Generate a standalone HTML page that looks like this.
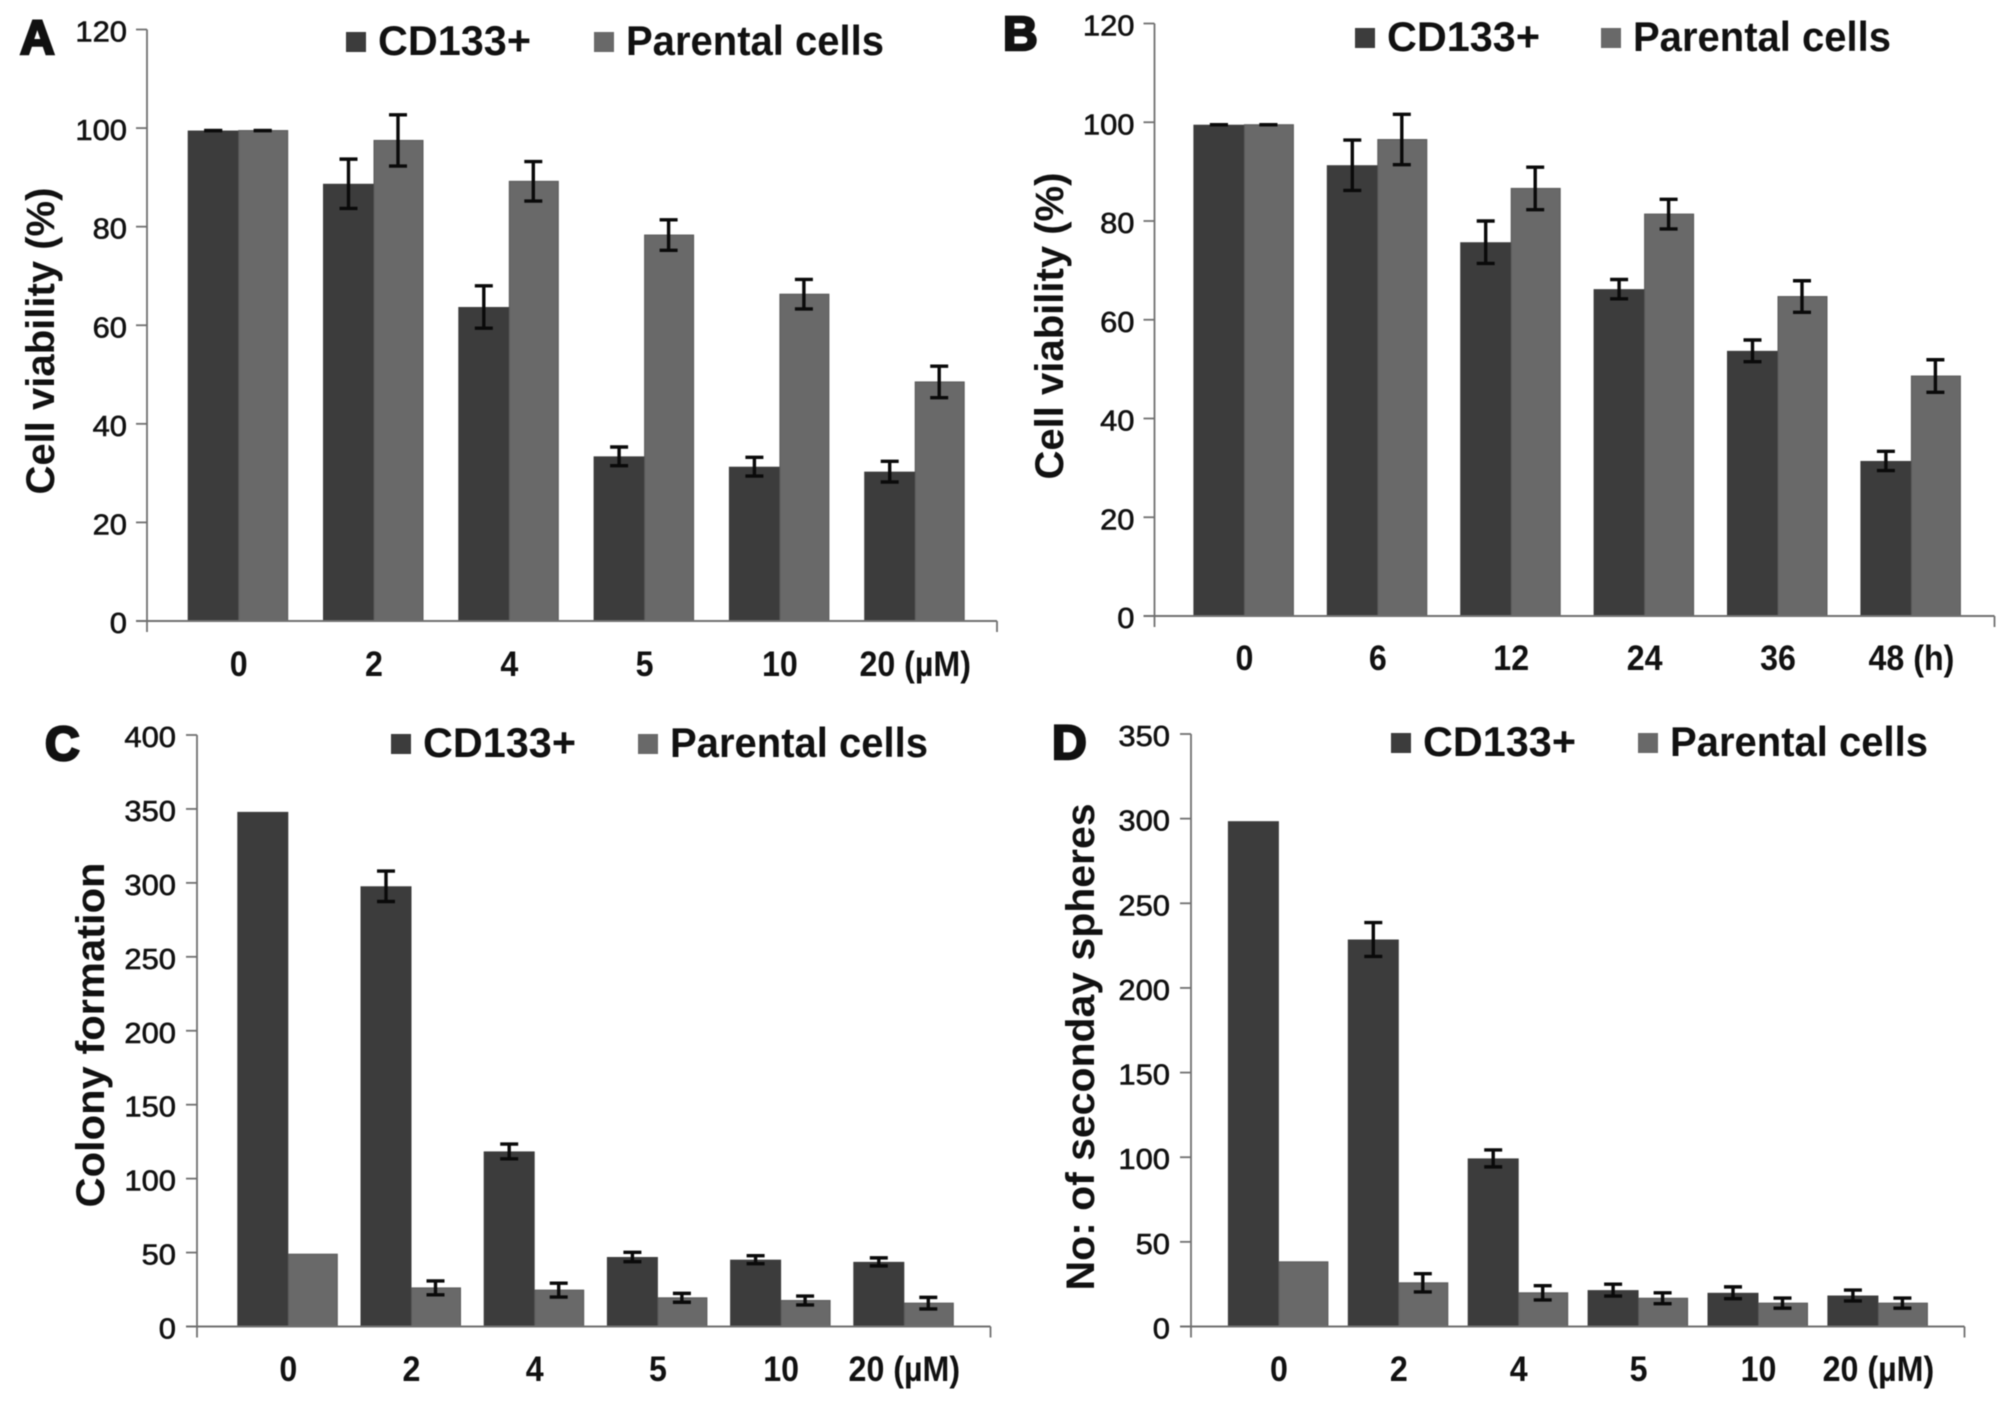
<!DOCTYPE html>
<html lang="en">
<head>
<meta charset="utf-8">
<title>Cell viability, colony formation and secondary spheres</title>
<style>
  html, body { margin: 0; padding: 0; background: #fff; }
  #figure { display: block; width: 2008px; height: 1403px; filter: blur(0.6px); }
  text { font-family: "Liberation Sans", Arial, sans-serif; fill: #111; }
</style>
</head>
<body>
<svg id="figure" xmlns="http://www.w3.org/2000/svg" width="2008" height="1403" viewBox="0 0 2008 1403"></svg>
<script>
// ---- Panel A data ----
const categoriesA = ['0', '2', '4', '5', '10', '20 (µM)'];
const ticksA = [0, 20, 40, 60, 80, 100, 120];
const cd133A = [99.5, 88.7, 63.7, 33.4, 31.3, 30.3];
const parentalA = [99.5, 97.5, 89.2, 78.3, 66.3, 48.5];
const cd133ErrA = [0, 5, 4.3, 1.9, 1.9, 2.1];
const parentalErrA = [0, 5.2, 4, 3.1, 3, 3.2];

// ---- Panel B data ----
const categoriesB = ['0', '6', '12', '24', '36', '48 (h)'];
const ticksB = [0, 20, 40, 60, 80, 100, 120];
const cd133B = [99.5, 91.3, 75.7, 66.2, 53.7, 31.4];
const parentalB = [99.5, 96.5, 86.6, 81.4, 64.7, 48.6];
const cd133ErrB = [0, 5.1, 4.3, 1.95, 2.2, 1.95];
const parentalErrB = [0, 5.1, 4.3, 3, 3.2, 3.3];

// ---- Panel C data ----
const categoriesC = ['0', '2', '4', '5', '10', '20 (µM)'];
const ticksC = [0, 50, 100, 150, 200, 250, 300, 350, 400];
const cd133C = [348, 297.7, 118.4, 47, 45.2, 43.7];
const parentalC = [48.9, 26.1, 24.6, 19.4, 17.6, 15.8];
const cd133ErrC = [0, 10.3, 5, 3.2, 2.7, 2.7];
const parentalErrC = [0, 4.7, 4.7, 3, 3, 3.9];

// ---- Panel D data ----
const categoriesD = ['0', '2', '4', '5', '10', '20 (µM)'];
const ticksD = [0, 50, 100, 150, 200, 250, 300, 350];
const cd133D = [298.5, 228.6, 99.3, 21.5, 19.9, 18.3];
const parentalD = [38.2, 25.8, 19.9, 16.7, 13.8, 13.8];
const cd133ErrD = [0, 10, 5, 3.5, 3.5, 3.2];
const parentalErrD = [0, 5.4, 4.2, 3.2, 3, 3];

const SVG_NS = 'http://www.w3.org/2000/svg';
const figure = document.getElementById('figure');
const DARK = '#3c3c3c';
const LIGHT = '#696969';
const LIGHT_EDGE = '#595959';
const AXIS = '#707070';

function make(parent, tag, attrs, content) {
  const el = document.createElementNS(SVG_NS, tag);
  Object.keys(attrs).forEach(function (k) { el.setAttribute(k, attrs[k]); });
  if (content !== undefined) el.textContent = content;
  parent.appendChild(el);
  return el;
}

function drawPanel(p) {
  const group = make(figure, 'g', {});
  
  

  const yMax = p.ticks[p.ticks.length - 1];
  const yScale = function (v) { return p.y0 - (v / yMax) * (p.y0 - p.yTop); };
  const xScale = function (i) { return p.firstX + i * p.step; };

  // bars
  p.categories.forEach(function (cat, i) {
    const cx = xScale(i);
    const darkBar = make(group, 'rect', { x: cx - 51, y: yScale(p.cd133[i]), width: 51, height: p.y0 - yScale(p.cd133[i]), fill: DARK });
    
    
    const lightBar = make(group, 'rect', { x: cx, y: yScale(p.parental[i]), width: 49, height: p.y0 - yScale(p.parental[i]), fill: LIGHT, stroke: LIGHT_EDGE, 'stroke-width': 1 });
    
    
  });

  // error bars
  function errorBar(cx, value, err, name) {
    if (err === 0 && !p.zeroCaps) return;
    const g = make(group, 'g', { stroke: '#0a0a0a', 'stroke-width': 3.4, fill: 'none' });
    
    
    const top = yScale(value + err);
    const bottom = yScale(value - err);
    make(g, 'line', { x1: cx, x2: cx, y1: top, y2: bottom });
    make(g, 'line', { x1: cx - 9, x2: cx + 9, y1: top, y2: top });
    make(g, 'line', { x1: cx - 9, x2: cx + 9, y1: bottom, y2: bottom });
  }
  p.categories.forEach(function (cat, i) {
    const cx = xScale(i);
    errorBar(cx - 25.5, p.cd133[i], p.cd133Err[i], 'error-bar-cd133-' + cat.split(' ')[0]);
    errorBar(cx + 24, p.parental[i], p.parentalErr[i], 'error-bar-parental-' + cat.split(' ')[0]);
  });

  // axes
  const yAxis = make(group, 'line', { x1: p.axisX, x2: p.axisX, y1: p.yTop, y2: p.y0 + 11, stroke: AXIS, 'stroke-width': 1.8 });
  
  
  const xAxis = make(group, 'line', { x1: p.axisX - 11, x2: p.axisRight, y1: p.y0, y2: p.y0, stroke: AXIS, 'stroke-width': 2 });
  
  
  const xEnd = make(group, 'line', { x1: p.axisRight, x2: p.axisRight, y1: p.y0, y2: p.y0 + 11, stroke: AXIS, 'stroke-width': 1.8 });
  
  

  // y ticks and labels
  p.ticks.forEach(function (t) {
    const mark = make(group, 'line', { x1: p.axisX - 11, x2: p.axisX, y1: yScale(t), y2: yScale(t), stroke: AXIS, 'stroke-width': 1.8 });
    
    
    const text = String(t);
    const label = make(group, 'text', {
      x: p.axisX - p.tickGap, y: yScale(t) + 12, 'text-anchor': 'end', 'font-size': 29,
      stroke: '#111', 'stroke-width': 0.6, textLength: 17.2 * text.length, lengthAdjust: 'spacingAndGlyphs'
    }, text);
    
    
  });

  // x labels
  p.categories.forEach(function (cat, i) {
    const label = make(group, 'text', {
      'text-anchor': 'middle', 'font-size': 35, 'font-weight': 'bold',
      transform: 'translate(' + xScale(i) + ' ' + p.xLabelY + ') scale(0.92 1)'
    }, cat);
    
    
  });

  // y title
  const title = make(group, 'text', {
    x: p.titleX, y: p.titleY, 'text-anchor': 'middle', 'font-size': 40, 'font-weight': 'bold',
    textLength: p.titleLen, lengthAdjust: 'spacingAndGlyphs',
    transform: 'rotate(-90 ' + p.titleX + ' ' + p.titleY + ')'
  }, p.title);
  
  

  // panel letter
  const letter = make(group, 'text', { x: p.letterX, y: p.letterY, 'font-size': 48, 'font-weight': 'bold', stroke: '#111', 'stroke-width': 2.5 }, p.id);
  
  

  // legend
  const legendA = make(group, 'g', {});
  
  
  make(legendA, 'rect', { x: p.legX1, y: p.legY, width: 20, height: 20, fill: DARK });
  make(legendA, 'text', { x: p.legX1 + 32, y: p.legY + 23, 'font-size': 42, 'font-weight': 'bold', textLength: 153, lengthAdjust: 'spacingAndGlyphs' }, 'CD133+');

  const legendB = make(group, 'g', {});
  
  
  make(legendB, 'rect', { x: p.legX2, y: p.legY, width: 20, height: 20, fill: LIGHT });
  make(legendB, 'text', { x: p.legX2 + 32, y: p.legY + 23, 'font-size': 42, 'font-weight': 'bold', textLength: 258, lengthAdjust: 'spacingAndGlyphs' }, 'Parental cells');
}

drawPanel({
  id: 'A', categories: categoriesA, ticks: ticksA, cd133: cd133A, parental: parentalA,
  cd133Err: cd133ErrA, parentalErr: parentalErrA, zeroCaps: true,
  axisX: 147, axisRight: 997, y0: 621, yTop: 29.5, firstX: 238.7, step: 135.3, xLabelY: 676, tickGap: 20,
  title: 'Cell viability (%)', titleX: 54, titleY: 341, titleLen: 307,
  letterX: 20, letterY: 54, legX1: 346, legX2: 594, legY: 32
});
drawPanel({
  id: 'B', categories: categoriesB, ticks: ticksB, cd133: cd133B, parental: parentalB,
  cd133Err: cd133ErrB, parentalErr: parentalErrB, zeroCaps: true,
  axisX: 1154.5, axisRight: 1994.5, y0: 616, yTop: 23.5, firstX: 1244.4, step: 133.4, xLabelY: 670, tickGap: 20,
  title: 'Cell viability (%)', titleX: 1063, titleY: 326, titleLen: 307,
  letterX: 1003, letterY: 50, legX1: 1355, legX2: 1601, legY: 28
});
drawPanel({
  id: 'C', categories: categoriesC, ticks: ticksC, cd133: cd133C, parental: parentalC,
  cd133Err: cd133ErrC, parentalErr: parentalErrC, zeroCaps: false,
  axisX: 197, axisRight: 990.5, y0: 1326.5, yTop: 735, firstX: 288.3, step: 123.2, xLabelY: 1381, tickGap: 21,
  title: 'Colony formation', titleX: 104, titleY: 1035, titleLen: 345,
  letterX: 45, letterY: 760, legX1: 391, legX2: 638, legY: 734
});
drawPanel({
  id: 'D', categories: categoriesD, ticks: ticksD, cd133: cd133D, parental: parentalD,
  cd133Err: cd133ErrD, parentalErr: parentalErrD, zeroCaps: false,
  axisX: 1191, axisRight: 1964.5, y0: 1326.5, yTop: 734, firstX: 1278.9, step: 119.9, xLabelY: 1381, tickGap: 21,
  title: 'No: of seconday spheres', titleX: 1094, titleY: 1047, titleLen: 487,
  letterX: 1052, letterY: 759, legX1: 1391, legX2: 1638, legY: 733
});
</script>
</body>
</html>
